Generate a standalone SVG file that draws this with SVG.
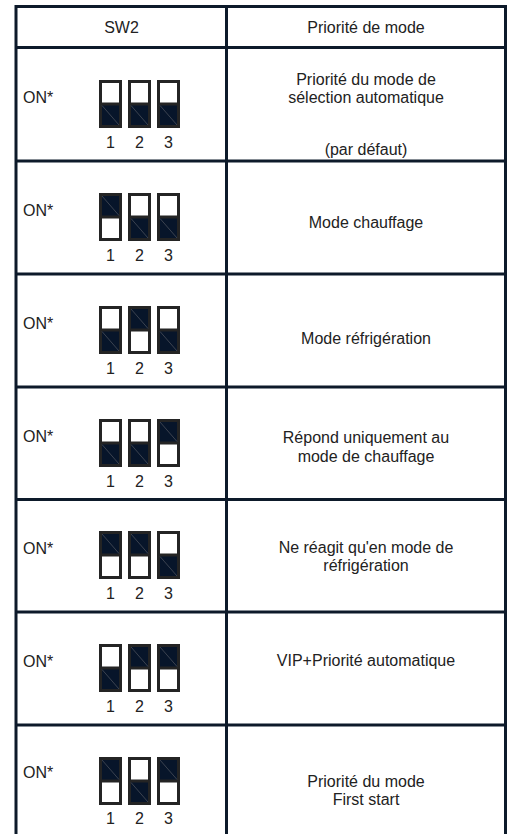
<svg xmlns="http://www.w3.org/2000/svg" width="512" height="834" viewBox="0 0 512 834">
  <defs>
    <style>
      .grid { stroke: #0d1a2a; stroke-width: 3; fill: none; }
      .txt { font-family: "Liberation Sans", Arial, sans-serif; font-size: 16px; fill: #222222; }
      .mid { text-anchor: middle; }
      .sw { fill: #ffffff; stroke: #242424; stroke-width: 3; }
      .on { fill: #07152a; stroke: #242424; stroke-width: 3; }
      .diag { stroke: #3c4350; stroke-width: 1; }
    </style>
    <!-- switch lever in lower position (OFF): dark lower half -->
    <g id="sw-off">
      <rect class="sw" x="1.5" y="1.5" width="20" height="45"/>
      <rect class="on" x="1.5" y="24" width="20" height="22.5"/>
      <line class="diag" x1="3" y1="25.5" x2="20" y2="45"/>
    </g>
    <!-- switch lever in upper position (ON): dark upper half -->
    <g id="sw-on">
      <rect class="sw" x="1.5" y="1.5" width="20" height="45"/>
      <rect class="on" x="1.5" y="1.5" width="20" height="22.5"/>
      <line class="diag" x1="3" y1="3" x2="20" y2="22.5"/>
    </g>
    <!-- switch numbers under each bank -->
    <g id="nums">
      <text class="txt mid" x="110.5" y="0">1</text>
      <text class="txt mid" x="139.5" y="0">2</text>
      <text class="txt mid" x="168.5" y="0">3</text>
    </g>
  </defs>

  <rect width="512" height="834" fill="#ffffff"/>

  <!-- table grid -->
  <g id="grid">
    <path class="grid" d="M16 6.5 H505.5 M16 5 V834 M505.5 5 V834 M226.5 5 V834"/>
    <path class="grid" d="M16 47.5 H505.5 M16 161 H505.5 M16 274 H505.5 M16 387 H505.5 M16 499.5 H505.5 M16 612 H505.5 M16 725 H505.5"/>
  </g>

  <g id="header">
    <text class="txt mid" x="121.5" y="33">SW2</text>
    <text class="txt mid" x="366" y="33">Priorité de mode</text>
  </g>

  <g id="row1">
    <text class="txt" x="23" y="103">ON*</text>
    <use href="#sw-off" x="99" y="80"/>
    <use href="#sw-off" x="128" y="80"/>
    <use href="#sw-off" x="157" y="80"/>
    <use href="#nums" y="148"/>
    <text class="txt mid" x="366" y="85">Priorité du mode de</text>
    <text class="txt mid" x="366" y="103">sélection automatique</text>
    <text class="txt mid" x="366" y="155">(par défaut)</text>
  </g>

  <g id="row2">
    <text class="txt" x="23" y="216">ON*</text>
    <use href="#sw-on" x="99" y="193"/>
    <use href="#sw-off" x="128" y="193"/>
    <use href="#sw-off" x="157" y="193"/>
    <use href="#nums" y="261"/>
    <text class="txt mid" x="366" y="228">Mode chauffage</text>
  </g>

  <g id="row3">
    <text class="txt" x="23" y="329">ON*</text>
    <use href="#sw-off" x="99" y="306"/>
    <use href="#sw-on" x="128" y="306"/>
    <use href="#sw-off" x="157" y="306"/>
    <use href="#nums" y="374"/>
    <text class="txt mid" x="366" y="344">Mode réfrigération</text>
  </g>

  <g id="row4">
    <text class="txt" x="23" y="442">ON*</text>
    <use href="#sw-off" x="99" y="419"/>
    <use href="#sw-off" x="128" y="419"/>
    <use href="#sw-on" x="157" y="419"/>
    <use href="#nums" y="487"/>
    <text class="txt mid" x="366" y="443">Répond uniquement au</text>
    <text class="txt mid" x="366" y="462">mode de chauffage</text>
  </g>

  <g id="row5">
    <text class="txt" x="23" y="554">ON*</text>
    <use href="#sw-on" x="99" y="531"/>
    <use href="#sw-on" x="128" y="531"/>
    <use href="#sw-off" x="157" y="531"/>
    <use href="#nums" y="599"/>
    <text class="txt mid" x="366" y="553">Ne réagit qu'en mode de</text>
    <text class="txt mid" x="366" y="571">réfrigération</text>
  </g>

  <g id="row6">
    <text class="txt" x="23" y="667">ON*</text>
    <use href="#sw-off" x="99" y="644"/>
    <use href="#sw-on" x="128" y="644"/>
    <use href="#sw-on" x="157" y="644"/>
    <use href="#nums" y="712"/>
    <text class="txt mid" x="366" y="666">VIP+Priorité automatique</text>
  </g>

  <g id="row7">
    <text class="txt" x="23" y="778">ON*</text>
    <use href="#sw-on" x="99" y="757"/>
    <use href="#sw-off" x="128" y="757"/>
    <use href="#sw-on" x="157" y="757"/>
    <use href="#nums" y="824"/>
    <text class="txt mid" x="366" y="787">Priorité du mode</text>
    <text class="txt mid" x="366" y="805">First start</text>
  </g>
</svg>
